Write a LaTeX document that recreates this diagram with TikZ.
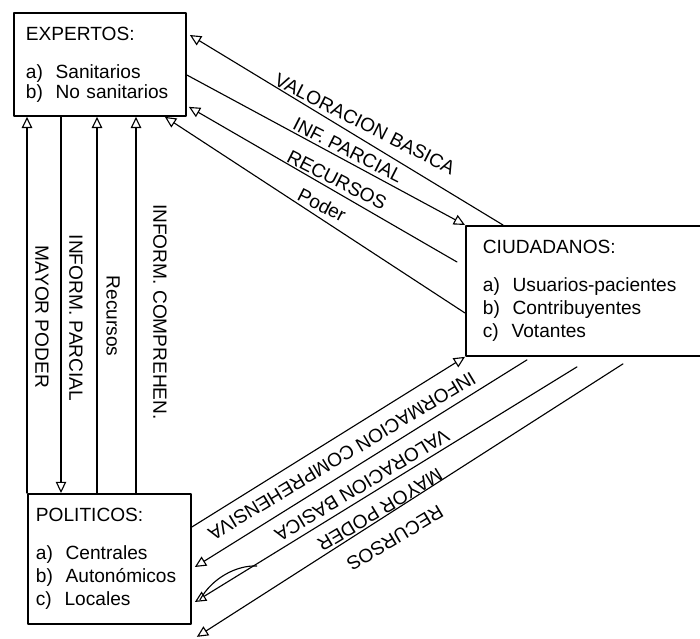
\documentclass[tikz,border=0pt]{standalone}
\usepackage{fontspec}
\setmainfont{Liberation Sans}
\usetikzlibrary{arrows.meta,calc}
\tikzset{
  caja/.style={draw, line width=1.3pt, align=left, anchor=north west, inner ysep=0pt},
  rotulo/.style={inner sep=1pt},
}
\begin{document}
\begin{tikzpicture}[x=0.025cm, y=-0.025cm, >={Triangle[open,length=8pt,width=7.5pt]}, font=\fontsize{13.6}{16.4}\selectfont, line width=0.8pt, line join=round, line cap=round]
  \useasboundingbox (0,0) rectangle (700,639);
  \clip (0,0) rectangle (700,639);
  % cajas
  \node[caja, inner xsep=0.3cm, text width=3.7cm, minimum height=2.575cm] (exp) at (13,12)
    {EXPERTOS:\\[10.6pt] a)~~Sanitarios\\[-2.2pt] b)~~No sanitarios};
  \node[caja, inner xsep=0.425cm, text width=5.6cm, minimum height=3.25cm] (ciu) at (465,225)
    {CIUDADANOS:\\[10.6pt] a)~~Usuarios-pacientes\\ b)~~Contribuyentes\\ c)~~Votantes};
  \node[caja, inner xsep=0.2cm, text width=3.675cm, minimum height=3.25cm] (pol) at (27,493)
    {POLITICOS:\\[10.6pt] a)~~Centrales\\ b)~~Autonómicos\\ c)~~Locales};

  % expertos - ciudadanos
  \draw[->] ($(ciu.north west)+(38,0)$) -- ($(exp.north east)+(3,23)$);
  \draw[->] ($(exp.north east)+(0,63)$) -- (ciu.north west);
  \draw[->] ($(ciu.north west)+(-8,37)$) -- ($(exp.south east)+(2,-10)$);
  \draw[->] ($(ciu.north west)+(0,88)$) -- ($(exp.south east)+(-22,0)$);
  \node[rotulo, rotate=-27] (l1) at (365,124) {VALORACION BASICA};
  \node[rotulo, rotate=-27] (l2) at (348,150) {INF. PARCIAL};
  \node[rotulo, rotate=-27] (l3) at (337,180) {RECURSOS};
  \node[rotulo, rotate=-27] (l4) at (322,205) {Poder};

  % expertos - politicos
  \coordinate (v2) at ($(exp.south west)+(48,0)$);
  \coordinate (v3) at ($(exp.south west)+(84,0)$);
  \coordinate (v4) at ($(exp.south west)+(123,0)$);
  \draw[->] (pol.north west) -- (pol.north west |- exp.south);
  \draw[->] (v2) -- (v2 |- pol.north);
  \draw[->] (v3 |- pol.north) -- (v3);
  \draw[->] (v4 |- pol.north) -- (v4);
  \node[rotulo, rotate=-90] (l5) at (42,317) {MAYOR PODER};
  \node[rotulo, rotate=-90] (l6) at (76,318) {INFORM. PARCIAL};
  \node[rotulo, rotate=-90] (l7) at (113,316) {Recursos};
  \node[rotulo, rotate=-90] (l8) at (160,312) {INFORM. COMPREHEN.};

  % politicos - ciudadanos
  \draw[->] ($(pol.north east)+(0,34)$) -- (ciu.south west);
  \draw[->] ($(ciu.south west)+(62,3)$) -- ($(pol.north east)+(3,74)$);
  \draw[->] ($(ciu.south west)+(112,10)$) -- ($(pol.north east)+(3,109)$);
  \draw[->] ($(ciu.south west)+(158,7)$) -- ($(pol.south east)+(5,12)$);
  \draw ($(pol.north east)+(8,107)$) .. controls ($(pol.north east)+(20,85)$) and ($(pol.north east)+(45,72)$) .. ($(pol.north east)+(65,73)$);
  \node[rotulo, rotate=-149] (l9) at (342,456) {INFORMACION COMPREHENSIVA};
  \node[rotulo, rotate=-149] (l10) at (362,485) {VALORACION BASICA};
  \node[rotulo, rotate=-149] (l11) at (380,510) {MAYOR PODER};
  \node[rotulo, rotate=-149] (l12) at (395,538) {RECURSOS};
\end{tikzpicture}
\end{document}
